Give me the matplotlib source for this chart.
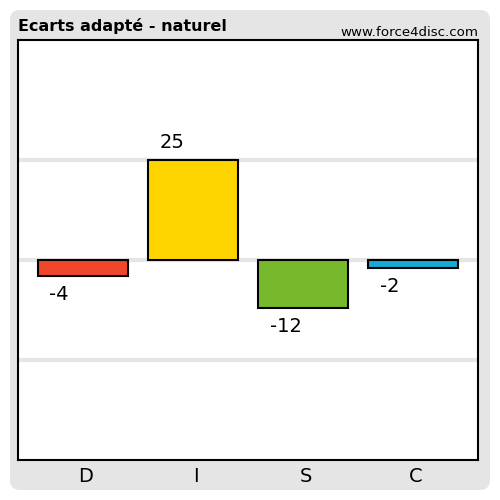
import matplotlib.pyplot as plt
import matplotlib.transforms as mtransforms
from matplotlib.patches import FancyBboxPatch

categories = ['D', 'I', 'S', 'C']
values = [-4, 25, -12, -2]
colors = ['#ef462c', '#ffd500', '#77b82c', '#16a9d3']

fig = plt.figure(figsize=(5, 5), dpi=100)

# gray rounded frame behind the chart
bg = FancyBboxPatch((0.02, 0.02), 0.96, 0.96, boxstyle='round,pad=0,rounding_size=0.02',
                    transform=fig.transFigure, facecolor='#e5e5e5', edgecolor='none', zorder=-5)
fig.patches.append(bg)

ax = fig.add_axes([0.036, 0.08, 0.92, 0.84])
ax.set_zorder(1)
ax.set_facecolor('white')
ax.set_xlim(-0.59, 3.59)
ax.set_ylim(-50, 55)

for y in [-25, 0, 25]:
    ax.axhline(y, color='#e5e5e5', linewidth=3, zorder=1)

x = range(len(categories))
ax.bar(x, values, width=0.818, color=colors, edgecolor='black', linewidth=1.5, zorder=2)

# value labels, left-aligned a bit inside the bar's left edge
for i, v in enumerate(values):
    off = 12.5 if v >= 0 else -24
    ax.annotate(str(v), (i - 0.409 + 0.105, v), xytext=(0, off), textcoords='offset pixels',
                ha='left', va='baseline', fontsize=14)

ax.set_xticks(list(x))
ax.set_xticklabels(categories, fontsize=14)
ax.tick_params(axis='x', length=0, pad=5)
# labels sit a few pixels right of the bar centres in the original
shift = mtransforms.ScaledTranslation(3 / 100, 0, fig.dpi_scale_trans)
for lbl in ax.get_xticklabels():
    lbl.set_transform(lbl.get_transform() + shift)
ax.set_yticks([])
for s in ax.spines.values():
    s.set_linewidth(1.5)
    s.set_color('black')

fig.text(0.036, 0.932, 'Ecarts adapté - naturel', fontsize=11.5, fontweight='bold', ha='left', va='bottom')
fig.text(0.956, 0.922, 'www.force4disc.com', fontsize=9.6, ha='right', va='bottom')

fig.savefig('out.png', dpi=100)
